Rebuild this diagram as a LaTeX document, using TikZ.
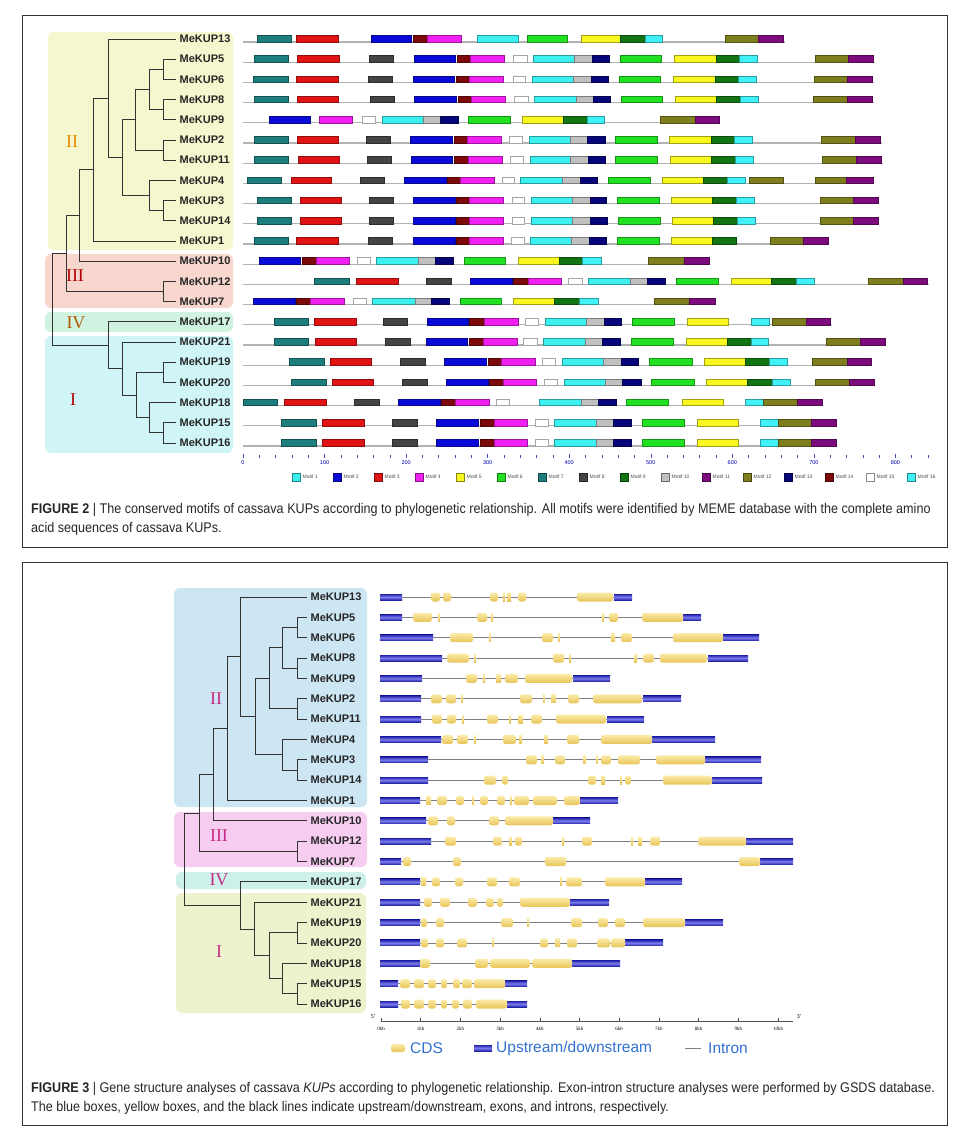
\documentclass[tikz,border=0pt]{standalone}
\usepackage{fontspec}
\setmainfont{Liberation Sans}
\newfontfamily\romfont{Liberation Serif}
\newfontfamily\capfont[FakeStretch=0.9]{Liberation Sans}
\usetikzlibrary{calc}

\definecolor{m1}{HTML}{3CF0F0}
\definecolor{m2}{HTML}{0A0AD8}
\definecolor{m3}{HTML}{E01414}
\definecolor{m4}{HTML}{F020F0}
\definecolor{m5}{HTML}{F8F820}
\definecolor{m6}{HTML}{22E022}
\definecolor{m7}{HTML}{1E7E7E}
\definecolor{m8}{HTML}{444444}
\definecolor{m9}{HTML}{127412}
\definecolor{m10}{HTML}{C0C0C0}
\definecolor{m11}{HTML}{7C0C7C}
\definecolor{m12}{HTML}{7E7E1E}
\definecolor{m13}{HTML}{06067A}
\definecolor{m14}{HTML}{7C0A0A}
\definecolor{m15}{HTML}{FFFFFF}
\definecolor{m16}{HTML}{40F2F8}
\definecolor{bgII}{HTML}{F7F7CF}
\definecolor{bgIII}{HTML}{F6D6CD}
\definecolor{bgIV}{HTML}{D0F2E0}
\definecolor{bgI}{HTML}{CFF5F7}
\definecolor{hgII}{HTML}{CDE6F3}
\definecolor{hgIII}{HTML}{F6CDF1}
\definecolor{hgIV}{HTML}{CDF0EA}
\definecolor{hgI}{HTML}{EEF3CD}
\definecolor{utrdark}{HTML}{2424A8}
\definecolor{utrlight}{HTML}{7C7CF0}
\definecolor{cdsdark}{HTML}{E8C458}
\definecolor{cdslight}{HTML}{FBEBA8}
\definecolor{legblue}{HTML}{3270D0}

\tikzset{
  clade/.style={rounded corners=6pt},
  tree/.style={draw=black!80, line width=0.9pt},
  leaf/.style={anchor=west, inner sep=3.5pt, text=black!85,
    font=\bfseries\fontsize{11}{12}\selectfont},
  cladetxt/.style={font=\romfont\fontsize{18}{18}\selectfont},
  mline/.style={draw=black!30, line width=1.2pt},
  mbox/.style={line width=0.5pt},
  axtick/.style={draw=blue!60!black!70, line width=0.5pt},
  axlbl/.style={text=blue!70!black, font=\fontsize{5.5}{6}\selectfont, inner sep=0pt},
  leglbl/.style={anchor=west, text=black!70, font=\fontsize{5}{6}\selectfont, inner sep=0pt},
  intron/.style={draw=black!50, line width=0.9pt},
  utr/.style={top color=utrdark, bottom color=utrdark, middle color=utrlight},
  cds/.style={rounded corners=2.5pt, top color=cdslight, bottom color=cdsdark},
  cdstiny/.style={top color=cdslight, bottom color=cdsdark},
  capt/.style={anchor=north west, align=left, inner sep=0pt, text=black!85,
    font=\capfont\fontsize{14}{19}\selectfont},
  frame/.style={draw=black!80, line width=0.8pt}
}

\newcommand\motifrow[3]{%
  \draw[mline] (243,#1+3) -- (#2,#1+3);
  \foreach \a/\b/\c in {#3}
    \filldraw[mbox, fill=\c, draw=\c!65!black] (\a,#1-3.5) rectangle (\b,#1+3);
}
\newcommand\generow[4]{%
  \draw[intron] (380,#1) -- (#2,#1);
  \foreach \a/\b in {#3} \shade[utr] (\a,#1-3) rectangle (\b,#1+3);
  \foreach \a/\b in {#4} {
    \pgfmathparse{\b-\a>5 ? 1 : 0}
    \ifnum\pgfmathresult=1
      \shade[cds] (\a,#1-4.5) rectangle (\b,#1+4.5);
    \else
      \shade[cdstiny] (\a,#1-4) rectangle (\b,#1+4);
    \fi}
}

\begin{document}
\begin{tikzpicture}[x=1pt, y=-1pt]
  \useasboundingbox (0,0) rectangle (967,1128);

  % figure 2
  \draw[frame] (22,15) rectangle (947,547);
  \fill[clade, bgII] (48,32) rectangle (233,250);
  \fill[clade, bgIII] (45,254) rectangle (233,308);
  \fill[clade, bgIV] (45,312) rectangle (233,332);
  \fill[clade, bgI] (45,336) rectangle (233,453);
  \node[cladetxt, text=orange!80!yellow!90!black] (cII) at (72,142) {II};
  \node[cladetxt, text=red!70!black] (cIII) at (75,276) {III};
  \node[cladetxt, text=orange!70!black] (cIV) at (76,323) {IV};
  \node[cladetxt, text=red!70!black] (cI) at (73,400) {I};

  \foreach \n/\i in {13/0,5/1,6/2,8/3,9/4,2/5,11/6,4/7,3/8,14/9,1/10,
                     10/11,12/12,7/13,17/14,21/15,19/16,20/17,18/18,15/19,16/20}
    \node[leaf] (k\n) at (176,{39+20.2*\i}) {MeKUP\n};

  \coordinate (t56) at (163,69.3);
  \coordinate (t89) at (163,109.7);
  \coordinate (t5689) at (149,89.5);
  \coordinate (t211) at (163,150.1);
  \coordinate (tA) at (135,119.8);
  \coordinate (t314) at (163,210.7);
  \coordinate (tB) at (149,195.5);
  \coordinate (tAB) at (122,157.7);
  \coordinate (t13) at (108,98.4);
  \coordinate (tII) at (93,169.7);
  \coordinate (tII10) at (79,215.4);
  \coordinate (t127) at (163,291.5);
  \coordinate (tIII) at (66,253.5);
  \coordinate (t1516) at (163,432.9);
  \coordinate (t18) at (149,417.8);
  \coordinate (t1920) at (163,372.3);
  \coordinate (tC) at (136,395);
  \coordinate (t21) at (122,368.5);
  \coordinate (tIVI) at (108,345.1);
  \coordinate (troot) at (52,299.3);

  \foreach \p/\c in {t56/k5.west,t56/k6.west,t89/k8.west,t89/k9.west,t5689/t56,t5689/t89,
      t211/k2.west,t211/k11.west,tA/t5689,tA/t211,t314/k3.west,t314/k14.west,tB/k4.west,
      tB/t314,tAB/tA,tAB/tB,t13/k13.west,t13/tAB,tII/t13,tII/k1.west,tII10/tII,tII10/k10.west,
      t127/k12.west,t127/k7.west,tIII/tII10,tIII/t127,troot/tIII,troot/tIVI,
      tIVI/k17.west,tIVI/t21,t21/k21.west,t21/tC,tC/t1920,tC/t18,t1920/k19.west,
      t1920/k20.west,t18/k18.west,t18/t1516,t1516/k15.west,t1516/k16.west}
    \draw[tree] (\p) |- (\c);

  \motifrow{39}{785}{257/291/m7,296/338/m3,371/411/m2,413/427/m14,427/461/m4,477/518/m1,527/567/m6,581/620/m5,620/645/m9,645/662/m16,725/758/m12,758/783/m11}
  \motifrow{59.2}{875}{254/288/m7,297/339/m3,369/393/m8,414/455/m2,457/470/m14,470/504/m4,513/527/m15,533/574/m1,574/592/m10,592/609/m13,620/661/m6,674/716/m5,716/739/m9,739/757/m16,815/848/m12,848/873/m11}
  \motifrow{79.4}{874}{253/288/m7,296/338/m3,368/392/m8,413/454/m2,456/469/m14,469/503/m4,513/525/m15,532/573/m1,573/591/m10,591/608/m13,619/660/m6,673/715/m5,715/738/m9,738/756/m16,814/847/m12,847/872/m11}
  \motifrow{99.6}{874}{254/288/m7,297/338/m3,370/394/m8,414/456/m2,458/471/m14,471/505/m4,514/528/m15,534/576/m1,576/593/m10,593/610/m13,621/662/m6,675/716/m5,716/740/m9,740/758/m16,813/847/m12,847/872/m11}
  \motifrow{119.8}{720}{269/310/m2,319/352/m4,362/375/m15,382/423/m1,423/440/m10,440/458/m13,468/510/m6,522/563/m5,563/587/m9,587/604/m16,660/695/m12,695/719/m11}
  \motifrow{140}{882}{254/288/m7,297/338/m3,366/390/m8,410/452/m2,454/467/m14,467/501/m4,509/522/m15,529/570/m1,570/587/m10,587/605/m13,615/657/m6,669/711/m5,711/734/m9,734/752/m16,821/855/m12,855/880/m11}
  \motifrow{160.2}{883}{254/288/m7,298/339/m3,367/391/m8,411/452/m2,454/468/m14,468/502/m4,510/523/m15,530/570/m1,570/588/m10,588/605/m13,615/657/m6,670/711/m5,711/735/m9,735/753/m16,822/856/m12,856/881/m11}
  \motifrow{180.4}{874}{247/281/m7,291/331/m3,360/384/m8,404/446/m2,447/460/m14,460/494/m4,502/514/m15,520/562/m1,562/580/m10,580/597/m13,608/650/m6,662/703/m5,703/727/m9,727/745/m16,749/783/m12,815/846/m12,846/873/m11}
  \motifrow{200.6}{879}{257/291/m7,300/341/m3,369/393/m8,413/455/m2,456/469/m14,469/503/m4,512/524/m15,531/572/m1,572/590/m10,590/606/m13,617/659/m6,671/712/m5,712/736/m9,736/754/m16,820/853/m12,853/878/m11}
  \motifrow{220.8}{879}{257/291/m7,300/341/m3,369/393/m8,413/455/m2,456/469/m14,469/503/m4,512/524/m15,531/572/m1,572/590/m10,590/607/m13,618/660/m6,672/713/m5,713/737/m9,737/755/m16,820/853/m12,853/878/m11}
  \motifrow{241}{829}{254/288/m7,296/338/m3,368/392/m8,413/455/m2,456/469/m14,469/503/m4,511/524/m15,530/571/m1,571/589/m10,589/606/m13,617/659/m6,671/712/m5,712/736/m9,770/803/m12,803/828/m11}
  \motifrow{261.2}{710}{259/300/m2,302/316/m14,316/349/m4,357/370/m15,376/418/m1,418/435/m10,435/453/m13,464/505/m6,518/559/m5,559/582/m9,582/601/m16,648/684/m12,684/709/m11}
  \motifrow{281.4}{929}{314/349/m7,356/398/m3,426/451/m8,470/512/m2,513/528/m14,528/561/m4,568/582/m15,588/630/m1,630/647/m10,647/665/m13,676/718/m6,731/771/m5,771/796/m9,796/814/m16,868/903/m12,903/927/m11}
  \motifrow{301.6}{716}{253/295/m2,296/310/m14,310/344/m4,353/366/m15,372/415/m1,415/431/m10,431/449/m13,460/501/m6,513/554/m5,554/579/m9,579/598/m16,654/689/m12,689/715/m11}
  \motifrow{321.8}{832}{274/308/m7,314/356/m3,383/407/m8,427/468/m2,469/484/m14,484/518/m4,525/538/m15,545/586/m1,586/604/m10,604/621/m13,632/674/m6,687/728/m5,751/769/m16,772/806/m12,806/830/m11}
  \motifrow{342}{886}{274/308/m7,315/356/m3,385/410/m8,426/467/m2,469/483/m14,483/517/m4,523/537/m15,543/585/m1,585/602/m10,602/620/m13,631/673/m6,686/727/m5,727/751/m9,751/768/m16,826/860/m12,860/885/m11}
  \motifrow{362.2}{872}{289/324/m7,330/371/m3,400/425/m8,444/486/m2,488/501/m14,501/535/m4,542/555/m15,562/603/m1,603/621/m10,621/638/m13,649/692/m6,704/745/m5,745/769/m9,769/787/m16,812/847/m12,847/871/m11}
  \motifrow{382.4}{875}{291/326/m7,332/373/m3,402/427/m8,446/488/m2,489/503/m14,503/536/m4,544/557/m15,564/605/m1,605/622/m10,622/641/m13,651/694/m6,706/747/m5,747/772/m9,772/790/m16,815/849/m12,849/874/m11}
  \motifrow{402.6}{823}{243/277/m7,284/326/m3,354/379/m8,398/440/m2,441/455/m14,455/489/m4,496/509/m15,539/581/m1,581/598/m10,598/616/m13,626/668/m6,682/723/m5,745/763/m16,763/797/m12,797/822/m11}
  \motifrow{422.8}{837}{281/316/m7,322/364/m3,392/417/m8,436/478/m2,480/494/m14,494/527/m4,535/548/m15,554/596/m1,596/613/m10,613/631/m13,642/684/m6,697/738/m5,760/778/m16,778/811/m12,811/836/m11}
  \motifrow{443}{837}{281/316/m7,322/364/m3,392/417/m8,436/478/m2,480/494/m14,494/527/m4,535/548/m15,554/596/m1,596/613/m10,613/631/m13,642/684/m6,697/738/m5,760/778/m16,778/811/m12,811/836/m11}

  \foreach \v in {0,20,...,840} \draw[axtick] ({243+0.8155*\v},455) -- ++(0,2.5);
  \foreach \v in {0,100,...,800} {
    \draw[axtick] ({243+0.8155*\v},454) -- ++(0,4);
    \node[axlbl] (ax\v) at ({243+0.8155*\v},463) {\v};
  }
  \foreach \i in {1,...,16} {
    \filldraw[line width=0.6pt, fill=m\i, draw=m\i!55!black] ({292+41*(\i-1)},473) rectangle ++(8,8);
    \node[leglbl] (lg\i) at ({302.5+41*(\i-1)},477) {Motif \i};
  }
  \node[capt] (cap2) at (31,503) {\textbf{FIGURE 2} | The conserved motifs of cassava KUPs according to phylogenetic relationship. All motifs were identified by MEME database with the complete amino\\acid sequences of cassava KUPs.};

  % figure 3
  \draw[frame] (22,562) rectangle (947,1125);
  \fill[clade, hgII] (174,588) rectangle (367,807);
  \fill[clade, hgIII] (174,812) rectangle (367,867);
  \fill[clade, hgIV] (176,872) rectangle (366,889);
  \fill[clade, hgI] (176,893) rectangle (366,1013);
  \node[cladetxt, text=magenta!80!black] (hII) at (216,699) {II};
  \node[cladetxt, text=magenta!80!black] (hIII) at (219,836) {III};
  \node[cladetxt, text=magenta!80!black] (hIV) at (219,880) {IV};
  \node[cladetxt, text=magenta!80!black] (hI) at (219,952) {I};

  \foreach \n/\i in {13/0,5/1,6/2,8/3,9/4,2/5,11/6,4/7,3/8,14/9,1/10,
                     10/11,12/12,7/13,17/14,21/15,19/16,20/17,18/18,15/19,16/20}
    \node[leaf] (g\n) at (307,{597+20.35*\i}) {MeKUP\n};

  \coordinate (s56) at (297,627.5);
  \coordinate (s89) at (297,668.2);
  \coordinate (s5689) at (282,647.9);
  \coordinate (s211) at (297,708.9);
  \coordinate (sA) at (269,678.4);
  \coordinate (s314) at (297,770);
  \coordinate (sB) at (282,754.7);
  \coordinate (sAB) at (255,716.6);
  \coordinate (s13) at (240,656.8);
  \coordinate (sII) at (227,728.7);
  \coordinate (sII10) at (213,774.8);
  \coordinate (s127) at (297,851.4);
  \coordinate (sIII) at (199,813.1);
  \coordinate (s1516) at (297,993.8);
  \coordinate (s18) at (282,978.6);
  \coordinate (s1920) at (297,932.8);
  \coordinate (sC) at (269,955.7);
  \coordinate (s21) at (254,929);
  \coordinate (sIVI) at (240,905.4);
  \coordinate (sroot) at (184,859.3);

  \foreach \p/\c in {s56/g5.west,s56/g6.west,s89/g8.west,s89/g9.west,s5689/s56,s5689/s89,
      s211/g2.west,s211/g11.west,sA/s5689,sA/s211,s314/g3.west,s314/g14.west,sB/g4.west,
      sB/s314,sAB/sA,sAB/sB,s13/g13.west,s13/sAB,sII/s13,sII/g1.west,sII10/sII,sII10/g10.west,
      s127/g12.west,s127/g7.west,sIII/sII10,sIII/s127,sroot/sIII,sroot/sIVI,
      sIVI/g17.west,sIVI/s21,s21/g21.west,s21/sC,sC/s1920,sC/s18,s1920/g19.west,
      s1920/g20.west,s18/g18.west,s18/s1516,s1516/g15.west,s1516/g16.west}
    \draw[tree] (\p) |- (\c);

  \generow{597}{632}{380/402,614/632}{431/440,443/451,490/498,503/505,507/511,518/526,577/613}
  \generow{617.35}{701}{380/402,683/701}{413/432,438/440,477/487,491/493,602/604,609/618,642/683}
  \generow{637.7}{759}{380/433,723/759}{450/473,489/491,542/553,558/560,611/615,621/632,673/723}
  \generow{658.05}{748}{380/442,708/748}{447/469,474/476,553/564,569/571,634/637,643/654,660/707}
  \generow{678.4}{610}{380/422,573/610}{466/477,483/485,496/501,505/518,525/572}
  \generow{698.75}{681}{380/421,643/681}{431/442,446/456,461/463,520/532,543/545,551/556,568/579,593/642}
  \generow{719.1}{644}{380/421,607/644}{432/442,447/456,462/464,487/498,509/511,518/523,531/542,556/606}
  \generow{739.45}{715}{380/441,652/715}{442/453,457/468,474/476,503/516,519/522,544/548,567/579,601/652}
  \generow{759.8}{761}{380/428,705/761}{526/537,541/544,555/565,583/586,596/598,601/611,618/640,656/705}
  \generow{780.15}{762}{380/428,712/762}{484/496,502/508,588/596,601/605,620/622,625/631,663/712}
  \generow{800.5}{618}{380/420,580/618}{426/431,437/447,456/464,472/474,480/488,497/505,510/512,514/529,533/557,564/580}
  \generow{820.85}{590}{380/426,553/590}{428/438,447/455,489/499,505/553}
  \generow{841.2}{793}{380/431,746/793}{445/456,493/502,509/512,515/522,562/564,582/592,631/633,638/642,650/660,698/746}
  \generow{861.55}{793}{380/401,760/793}{403/411,453/461,545/566,739/760}
  \generow{881.9}{682}{380/420,645/682}{421/426,432/440,455/463,487/497,509/520,560/562,566/582,605/645}
  \generow{902.25}{609}{380/420,570/609}{424/432,440/450,468/477,486/494,497/503,520/570}
  \generow{922.6}{723}{380/420,685/723}{421/427,436/444,501/513,527/529,571/582,598/608,615/625,643/685}
  \generow{942.95}{663}{380/420,625/663}{421/428,436/444,457/467,492/494,540/548,555/560,567/577,597/610,611/625}
  \generow{963.3}{620}{380/420,572/620}{420/430,475/488,490/530,532/572}
  \generow{983.65}{527}{380/398,505/527}{400/410,414/424,428/436,441/447,453/460,462/472,474/505}
  \generow{1004}{527}{380/398,507/527}{401/410,414/424,428/436,441/447,452/459,463/472,476/507}

  \draw[black!70, line width=0.6pt] (381,1021) -- (793,1021);
  \foreach \k in {0,...,10} {
    \draw[black!70, line width=0.6pt] ({381+39.7*\k},1021) -- ++(0,-3);
    \node[inner sep=0pt, font=\romfont\fontsize{5}{6}\selectfont] (kb\k) at ({381+39.7*\k},1029) {\k kb};
  }
  \node[inner sep=0pt, font=\romfont\fontsize{6}{6}\selectfont] (p5) at (373,1017) {5'};
  \node[inner sep=0pt, font=\romfont\fontsize{6}{6}\selectfont] (p3) at (799,1017) {3'};

  \shade[cds] (391,1044) rectangle (405,1052);
  \node[anchor=west, inner sep=0pt, text=legblue, font=\fontsize{15.5}{16}\selectfont] (lcds) at (410,1048) {CDS};
  \shade[utr] (474,1045) rectangle (492,1051);
  \node[anchor=west, inner sep=0pt, text=legblue, font=\fontsize{15.5}{16}\selectfont] (lutr) at (496,1048) {Upstream/downstream};
  \draw[intron] (685,1048) -- (701,1048);
  \node[anchor=west, inner sep=0pt, text=legblue, font=\fontsize{15.5}{16}\selectfont] (lint) at (708,1048) {Intron};
  \node[capt] (cap3) at (31,1082) {\textbf{FIGURE 3} | Gene structure analyses of cassava \textit{KUPs} according to phylogenetic relationship. Exon-intron structure analyses were performed by GSDS database.\\The blue boxes, yellow boxes, and the black lines indicate upstream/downstream, exons, and introns, respectively.};
\end{tikzpicture}
\end{document}
